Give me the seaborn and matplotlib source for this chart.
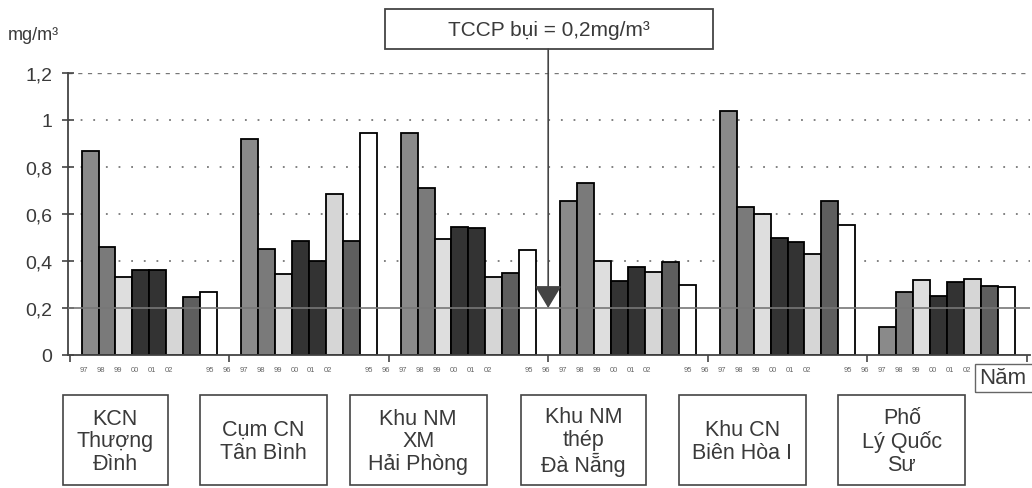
import pandas as pd
import matplotlib
matplotlib.use('Agg')
import matplotlib.pyplot as plt
import matplotlib.transforms as mtransforms
from matplotlib.patches import Rectangle
import seaborn as sns

# ── 데이터 ────────────────────────────────────────────────────────────
SITES = ['KCN\nThượng\nĐình', 'Cụm CN\nTân Bình', 'Khu NM\nXM\nHải Phòng',
         'Khu NM\nthép\nĐà Nẵng', 'Khu CN\nBiên Hòa I', 'Phố\nLý Quốc\nSư']
YEARS = ['95', '96', '97', '98', '99', '00', '01', '02']

THUONG_DINH = [0.87, 0.46, 0.33, 0.36, 0.36, 0.20, 0.245, 0.27]
TAN_BINH    = [0.92, 0.45, 0.345, 0.485, 0.40, 0.685, 0.485, 0.945]
HAI_PHONG   = [0.945, 0.71, 0.495, 0.545, 0.54, 0.33, 0.35, 0.445]
DA_NANG     = [0.655, 0.73, 0.40, 0.315, 0.375, 0.355, 0.395, 0.30]
BIEN_HOA    = [1.04, 0.63, 0.60, 0.50, 0.48, 0.43, 0.655, 0.555]
LY_QUOC_SU  = [0.12, 0.27, 0.32, 0.25, 0.31, 0.325, 0.295, 0.29]

Y_TICKS  = [0, 0.2, 0.4, 0.6, 0.8, 1.0, 1.2]
Y_LABELS = ['0', '0,2', '0,4', '0,6', '0,8', '1', '1,2']
TCCP     = 0.2   # tiêu chuẩn cho phép bụi

YEAR_COLORS = ['#8a8a8a', '#7a7a7a', '#dedede', '#333333',
               '#333333', '#d6d6d6', '#5e5e5e', '#ffffff']
TEXT_C = '#3a3a3a'
GROUP_W = 0.85
BOX_W_PX = [105, 127, 137, 125, 127, 127]   # chiều rộng ô tên (px)

rows = []
for site, vals in zip(SITES, [THUONG_DINH, TAN_BINH, HAI_PHONG,
                              DA_NANG, BIEN_HOA, LY_QUOC_SU]):
    for yr, v in zip(YEARS, vals):
        rows.append({'site': site, 'year': yr, 'value': v})
df = pd.DataFrame(rows)

sns.set_theme(style='white')
plt.rcParams['font.family'] = ['Liberation Sans', 'DejaVu Sans']

fig = plt.figure(figsize=(10.32, 4.89), dpi=100)
ax = fig.add_axes([68 / 1032, 1 - 356 / 489, 962 / 1032, 282 / 489])

sns.barplot(data=df, x='site', y='value', hue='year', order=SITES,
            hue_order=YEARS, palette=dict(zip(YEARS, YEAR_COLORS)),
            width=GROUP_W, saturation=1, edgecolor='black', linewidth=1.3,
            legend=False, ax=ax, zorder=2)

# lưới
for y in Y_TICKS[2:-1]:
    ax.axhline(y, color='#777777', lw=1.3, ls=(0, (1, 6)), zorder=0)
ax.axhline(Y_TICKS[-1], color='#777777', lw=1.0, ls=(0, (3, 4)), zorder=0)
ax.axhline(TCCP, color='#777777', lw=1.2, zorder=3)

ax.set_yticks(Y_TICKS)
ax.set_yticklabels(Y_LABELS, fontsize=14, color=TEXT_C)
ax.tick_params(axis='y', direction='inout', length=9, width=1.2,
               color='#444444', pad=7, left=True)

# nhãn năm dưới mỗi nhóm
bar_w = GROUP_W / len(YEARS)
pos, labs = [], []
for i in range(len(SITES)):
    for j, yr in enumerate(YEARS):
        pos.append(i - GROUP_W / 2 + (j + 0.5) * bar_w - 0.25)
        labs.append(yr)
ax.set_xticks(pos)
ax.set_xticklabels(labs, fontsize=5.5, color='#666666')
ax.tick_params(axis='x', length=0, pad=8)
ax.set_xticks([i - 0.5 for i in range(len(SITES) + 1)], minor=True)
ax.tick_params(axis='x', which='minor', length=5, width=1.2,
               color='#444444', direction='out', bottom=True)
ax.set_xlabel('')
ax.set_ylabel('')

# giới hạn trục đặt sau các tick
ax.set_ylim(0, 1.2)
ax.set_xlim(-0.51, len(SITES) - 0.48)

for s in ['top', 'right']:
    ax.spines[s].set_visible(False)
for s in ['left', 'bottom']:
    ax.spines[s].set_color('#444444')
    ax.spines[s].set_linewidth(1.3)

# đơn vị
fig.text(8 / 1032, 1 - 36 / 489, 'mg/m³', fontsize=13, color=TEXT_C,
         va='center', ha='left')

# ô tên địa điểm
trans = mtransforms.blended_transform_factory(ax.transData, fig.transFigure)
px_per_unit = 962 / (len(SITES) - 0.48 + 0.51)
for i, (site, wpx) in enumerate(zip(SITES, BOX_W_PX)):
    right = i - 0.5 + 98 / px_per_unit
    w = wpx / px_per_unit
    fig.patches.append(Rectangle((right - w, 0.006), w, 0.185,
                                 transform=trans, fill=False,
                                 edgecolor='#444444', lw=1.2))
    fig.text(right - w / 2, 1 - 442 / 489, site, transform=trans,
             ha='center', va='center', fontsize=15.5, color=TEXT_C,
             linespacing=1.12)

# ô "Năm"
fig.text(1003 / 1032, 1 - 379 / 489, 'Năm', fontsize=16, color=TEXT_C,
         ha='center', va='center')
fig.patches.append(Rectangle((975 / 1032, 1 - 393 / 489), 60 / 1032,
                             28 / 489, transform=fig.transFigure, fill=False,
                             edgecolor='#666666', lw=1.0))

# hộp TCCP + mũi tên
fig.patches.append(Rectangle((385 / 1032, 1 - 50 / 489), 328 / 1032,
                             40 / 489, transform=fig.transFigure, fill=False,
                             edgecolor='#444444', lw=1.3))
fig.text(549 / 1032, 1 - 30 / 489, 'TCCP bụi = 0,2mg/m³', fontsize=15,
         color=TEXT_C, ha='center', va='center')
ax.annotate('', xy=(2.5, TCCP), xycoords='data',
            xytext=(2.5, 1 - 50 / 489),
            textcoords=mtransforms.blended_transform_factory(ax.transData,
                                                             fig.transFigure),
            arrowprops=dict(arrowstyle='-|>,head_length=0.7,head_width=0.42',
                            mutation_scale=20, color='#444444', lw=1.2,
                            facecolor='#555555', shrinkA=0, shrinkB=0),
            annotation_clip=False, zorder=4)

plt.savefig('out.png', dpi=100)
